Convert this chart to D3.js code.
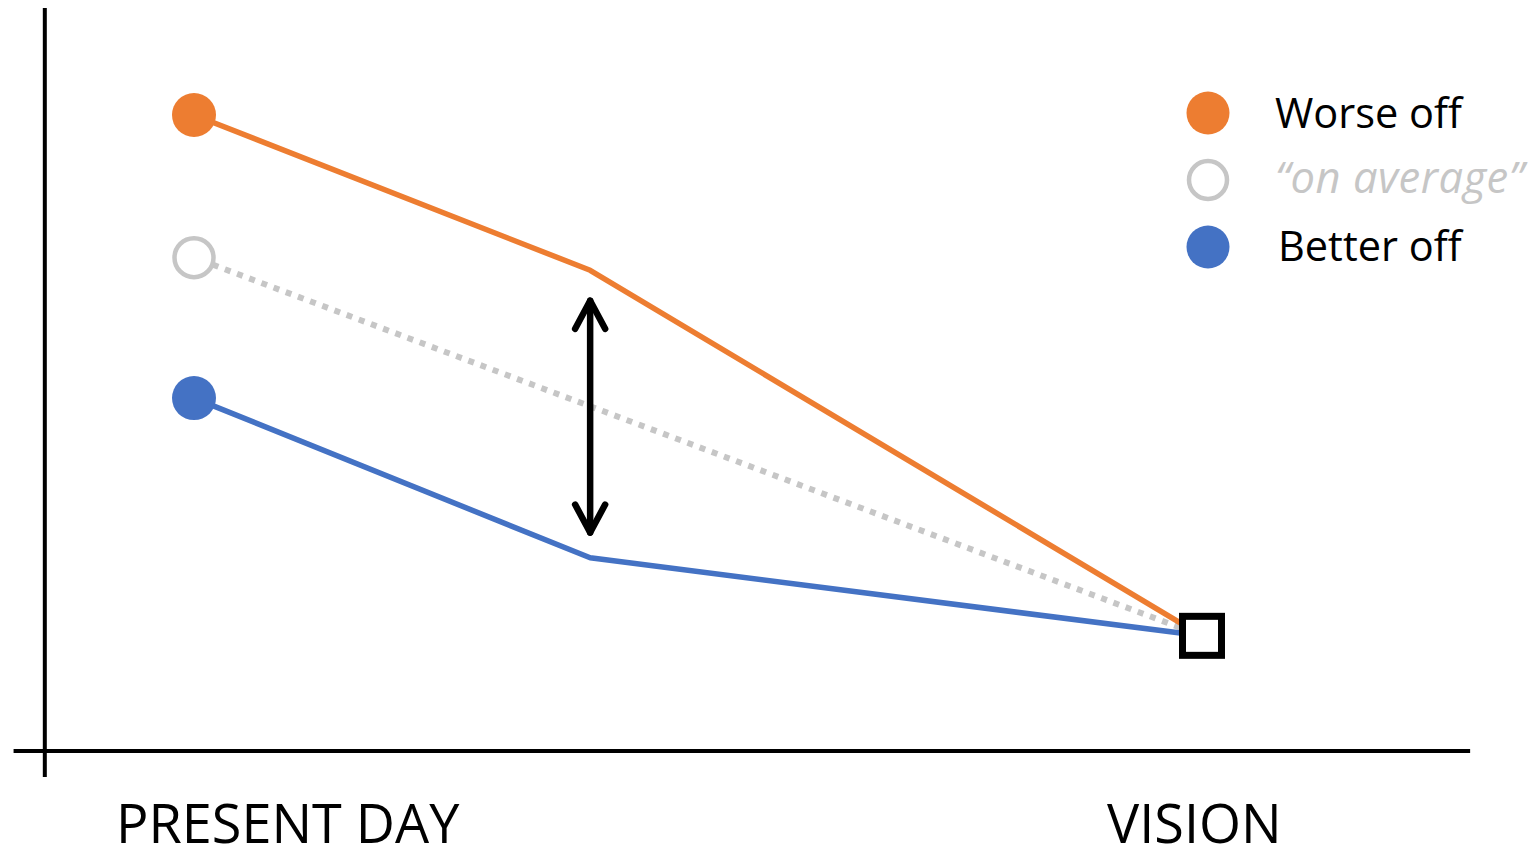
<!DOCTYPE html>
<html>
<head>
<meta charset="utf-8">
<script src="https://cdn.jsdelivr.net/npm/d3@7"></script>
<style>
  html, body { margin: 0; padding: 0; background: #ffffff; }
  svg { display: block; }
  text { font-family: "Open Sans", "Noto Sans", sans-serif; }
</style>
</head>
<body>
<svg id="chart" width="1539" height="851"></svg>
<script>
// Stages along the horizontal axis (0 = present day, 1 = vision)
const stages = [0, 0.393, 1];
const stageLabels = [
  { text: "PRESENT DAY", at: 0 },
  { text: "VISION", at: 1 }
];

// Outcome levels per stage
const worseOff = [85.6, 64.7, 15.5];
const betterOff = [47.5, 26.0, 15.5];
const onAverageStages = [0, 1];
const onAverage = [66.4, 15.5];

// Gap indicator drawn at the middle stage
const gapArrow = [61.0, 29.0];

// Legend entries
const legendLabels = ["Worse off", "\u201Con average\u201D", "Better off"];

const colors = { worse: "#ED7D31", avg: "#C6C6C6", better: "#4472C4" };

const svg = d3.select("#chart");

const x = d3.scaleLinear().domain([0, 1]).range([194, 1202]);
const y = d3.scaleLinear().domain([0, 100]).range([751, 8]);

// Axes: a cross-shaped origin with lines running past it
svg.append("line")
  .attr("x1", x(-0.148)).attr("x2", x(-0.148))
  .attr("y1", y(100)).attr("y2", y(-3.5))
  .attr("stroke", "#000").attr("stroke-width", 4);
svg.append("line")
  .attr("x1", x(-0.179)).attr("x2", x(1.266))
  .attr("y1", y(0)).attr("y2", y(0))
  .attr("stroke", "#000").attr("stroke-width", 4);

const line = d3.line().x(d => x(d[0])).y(d => y(d[1]));

// Dotted "on average" path
svg.append("path")
  .datum(onAverageStages.map((s, i) => [s, onAverage[i]]))
  .attr("d", line)
  .attr("fill", "none")
  .attr("stroke", colors.avg)
  .attr("stroke-width", 6)
  .attr("stroke-dasharray", "6 7")
  .attr("stroke-dashoffset", -20);

// Worse-off and better-off paths
svg.append("path")
  .datum(stages.map((s, i) => [s, worseOff[i]]))
  .attr("d", line)
  .attr("fill", "none")
  .attr("stroke", colors.worse)
  .attr("stroke-width", 5.5)
  .attr("stroke-linejoin", "round");

svg.append("path")
  .datum(stages.map((s, i) => [s, betterOff[i]]))
  .attr("d", line)
  .attr("fill", "none")
  .attr("stroke", colors.better)
  .attr("stroke-width", 5.5)
  .attr("stroke-linejoin", "round");

// Starting points
svg.append("circle")
  .attr("cx", x(stages[0])).attr("cy", y(worseOff[0])).attr("r", 22)
  .attr("fill", colors.worse);
svg.append("circle")
  .attr("cx", x(onAverageStages[0])).attr("cy", y(onAverage[0])).attr("r", 19.5)
  .attr("fill", "#fff").attr("stroke", colors.avg).attr("stroke-width", 4.5);
svg.append("circle")
  .attr("cx", x(stages[0])).attr("cy", y(betterOff[0])).attr("r", 22)
  .attr("fill", colors.better);

// Target marker at the vision stage
const sq = 39;
svg.append("rect")
  .attr("x", x(1) - sq / 2).attr("y", y(worseOff[2]) - sq / 2)
  .attr("width", sq).attr("height", sq)
  .attr("fill", "#fff").attr("stroke", "#000").attr("stroke-width", 7);

// Double-headed gap arrow
const ax = x(stages[1]);
const aTop = y(gapArrow[0]);
const aBot = y(gapArrow[1]);
const arrow = svg.append("g")
  .attr("fill", "none").attr("stroke", "#000")
  .attr("stroke-width", 6.5).attr("stroke-linecap", "round").attr("stroke-linejoin", "round");
arrow.append("line").attr("x1", ax).attr("x2", ax).attr("y1", aTop + 3).attr("y2", aBot - 3);
arrow.append("path").attr("d", `M${ax - 15},${aTop + 31} L${ax},${aTop + 3} L${ax + 15},${aTop + 31}`);
arrow.append("path").attr("d", `M${ax - 15},${aBot - 31} L${ax},${aBot - 3} L${ax + 15},${aBot - 31}`);

// Stage labels
svg.selectAll("text.stage")
  .data(stageLabels)
  .join("text")
  .attr("class", "stage")
  .attr("x", d => d.at === 0 ? 116 : 1107)
  .attr("y", 843)
  .attr("font-size", 54)
  .attr("fill", "#000")
  .text(d => d.text);

// Legend
const legend = [
  { label: legendLabels[0], color: colors.worse, fill: true, cy: 113, ty: 128 },
  { label: legendLabels[1], color: colors.avg, fill: false, cy: 180, ty: 193 },
  { label: legendLabels[2], color: colors.better, fill: true, cy: 247, ty: 261 }
];
const lg = svg.append("g");
lg.selectAll("circle")
  .data(legend)
  .join("circle")
  .attr("cx", 1208).attr("cy", d => d.cy)
  .attr("r", d => d.fill ? 21.5 : 19)
  .attr("fill", d => d.fill ? d.color : "#fff")
  .attr("stroke", d => d.fill ? "none" : d.color)
  .attr("stroke-width", 4.5);
lg.selectAll("text")
  .data(legend)
  .join("text")
  .attr("x", (d, i) => i === 2 ? 1278 : 1275)
  .attr("y", d => d.ty)
  .attr("font-size", d => d.fill ? 41.5 : 43.5)
  .attr("font-style", d => d.fill ? "normal" : "italic")
  .attr("letter-spacing", d => d.fill ? 0 : 0.5)
  .attr("fill", d => d.fill ? "#000" : d.color)
  .text(d => d.label);
</script>
</body>
</html>
